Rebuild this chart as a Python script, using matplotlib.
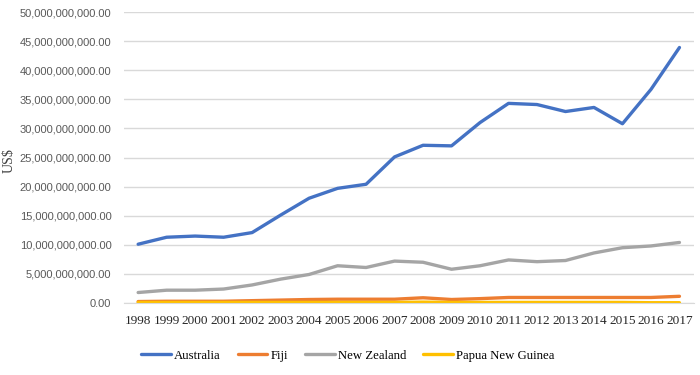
import matplotlib.pyplot as plt
from matplotlib.ticker import FuncFormatter

years = list(range(1998, 2018))
australia = [10.1, 11.3, 11.5, 11.3, 12.1, 15.1, 18.0, 19.7, 20.4, 25.1,
             27.1, 27.0, 31.0, 34.3, 34.1, 32.9, 33.6, 30.8, 36.7, 43.9]
fiji = [0.25, 0.3, 0.3, 0.3, 0.4, 0.5, 0.6, 0.65, 0.65, 0.65,
        0.9, 0.6, 0.75, 0.95, 0.95, 0.95, 0.95, 0.95, 0.95, 1.15]
new_zealand = [1.8, 2.2, 2.2, 2.4, 3.1, 4.1, 4.9, 6.4, 6.1, 7.2,
               7.0, 5.8, 6.4, 7.4, 7.1, 7.3, 8.6, 9.5, 9.8, 10.4]
png = [0.1, 0.1, 0.1, 0.1, 0.1, 0.1, 0.1, 0.1, 0.1, 0.1,
       0.15, 0.1, 0.1, 0.1, 0.1, 0.1, 0.1, 0.1, 0.05, 0.05]

series = [
    ('Australia', australia, '#4472C4'),
    ('Fiji', fiji, '#ED7D31'),
    ('New Zealand', new_zealand, '#A5A5A5'),
    ('Papua New Guinea', png, '#FFC000'),
]

SERIF = ['Liberation Serif', 'DejaVu Serif']
SANS = ['Liberation Sans', 'DejaVu Sans']

fig = plt.figure(figsize=(7, 3.75), dpi=100)
ax = fig.add_axes([0.177, 0.192, 0.814, 0.776])

x = list(range(len(years)))
for name, vals, color in series:
    ax.plot(x, [v * 1e9 for v in vals], color=color, lw=2.4, label=name,
            solid_capstyle='round')

ax.set_xlim(-0.5, len(years) - 0.5)
ax.set_ylim(0, 50e9)
ax.set_yticks([i * 5e9 for i in range(11)])
ax.yaxis.set_major_formatter(FuncFormatter(lambda v, p: '{:,.2f}'.format(v)))
ax.set_xticks(x)
ax.set_xticklabels([str(y) for y in years])

ax.grid(axis='y', color='#d9d9d9', lw=1)
ax.set_axisbelow(True)
for s in ['top', 'right', 'left']:
    ax.spines[s].set_visible(False)
ax.spines['bottom'].set_color('#d9d9d9')
ax.tick_params(axis='both', length=0)
ax.tick_params(axis='x', pad=9)
ax.tick_params(axis='y', pad=9)

for lbl in ax.get_yticklabels():
    lbl.set_family(SANS)
    lbl.set_fontsize(8.0)
    lbl.set_color('#595959')
for lbl in ax.get_xticklabels():
    lbl.set_family(SERIF)
    lbl.set_fontsize(9.5)
    lbl.set_color('#262626')

ax.set_ylabel('US$', family=SERIF, fontsize=10, color='#404040')
ax.yaxis.set_label_coords(-0.19, 0.49)

fig.legend(loc='lower center', ncol=4, frameon=False, handlelength=2.3,
           columnspacing=1.35, handletextpad=0.25,
           bbox_to_anchor=(0.497, 0.005),
           prop={'family': SERIF, 'size': 9.2})

fig.savefig('out.png', dpi=100)
